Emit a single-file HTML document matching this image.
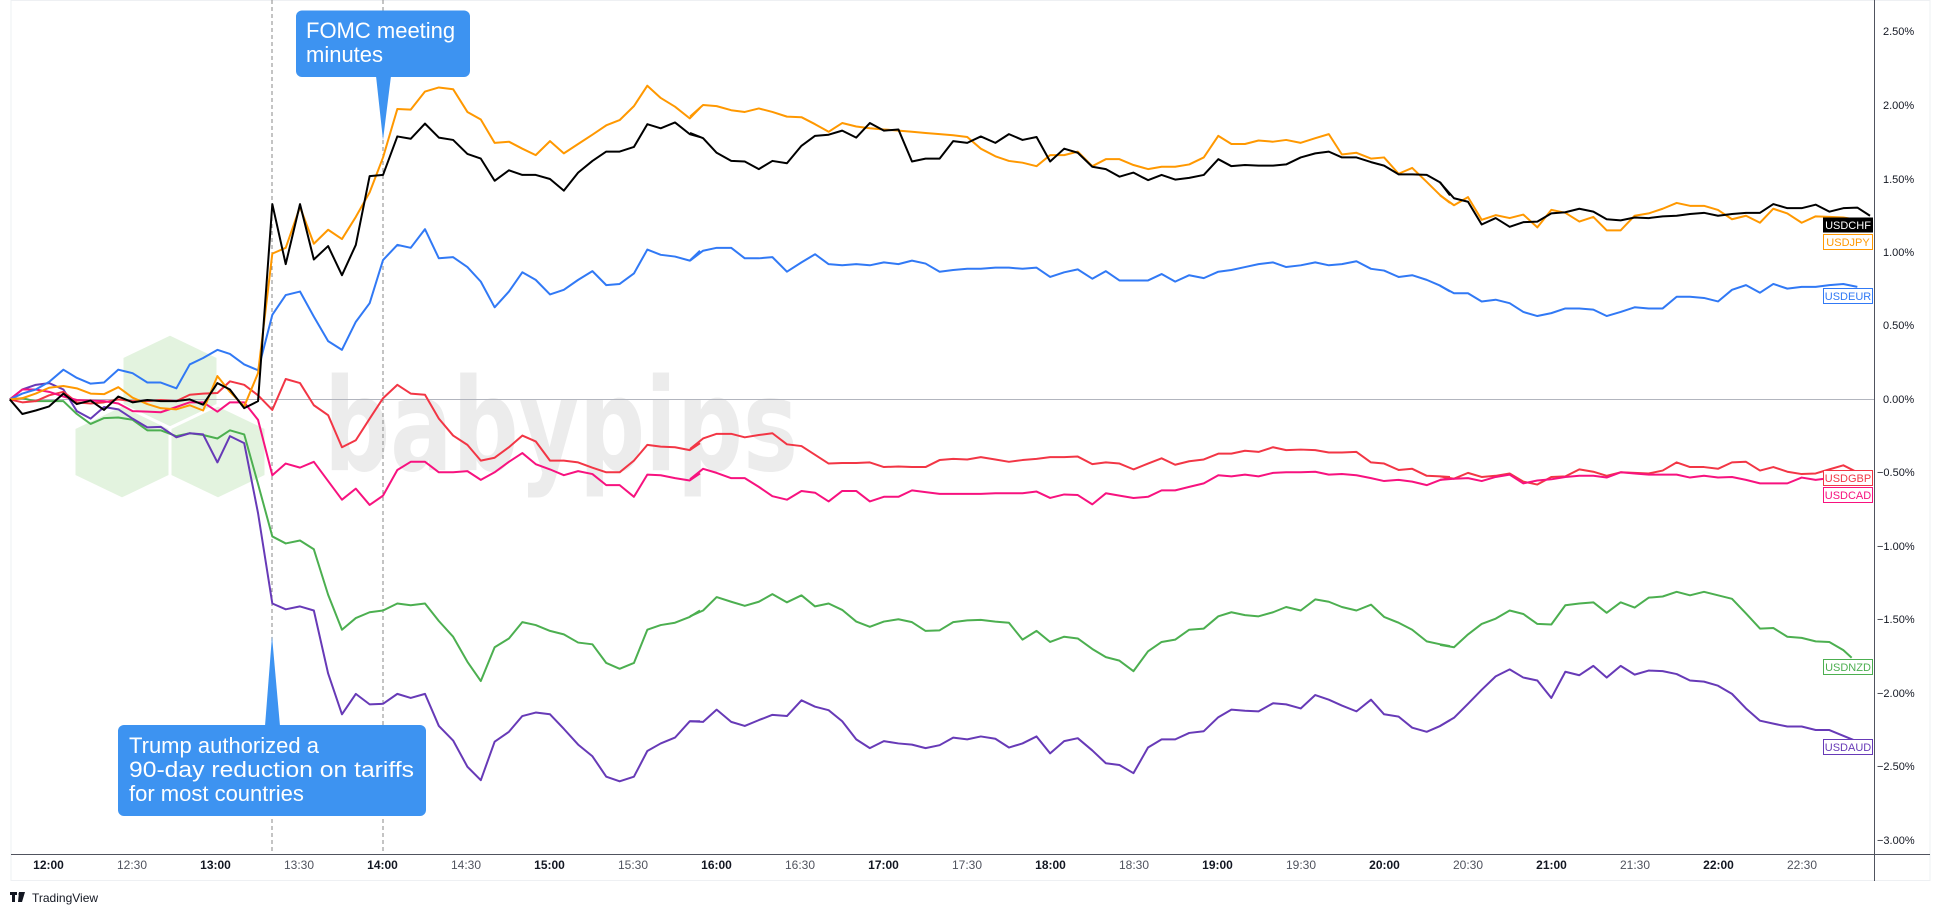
<!DOCTYPE html>
<html><head><meta charset="utf-8"><style>
html,body{margin:0;padding:0;background:#fff;}
svg{display:block;font-family:"Liberation Sans",sans-serif;}
.s{fill:none;stroke-width:2;vector-effect:non-scaling-stroke;stroke-linejoin:round;}
.ax{font-size:11px;fill:#131722;}
.tm{font-size:12px;fill:#131722;}
.lb{font-size:11px;}
</style></head><body>
<svg width="1940" height="917" viewBox="0 0 1940 917" xmlns="http://www.w3.org/2000/svg">
<rect x="0" y="0" width="1940" height="917" fill="#fff"/>
<rect x="11" y="0.5" width="1919" height="880" fill="#fff" stroke="#eef0f3"/>
<!-- watermark -->
<g fill="#e3f3df" stroke="#fff" stroke-width="3">
<polygon points="170,334 218,357 218,405 170,428 122,405 122,357"/>
<polygon points="122,405 170,428 170,476 122,499 74,476 74,428"/>
<polygon points="218,405 266,428 266,476 218,499 170,476 170,428"/>
</g>
<text x="324" y="470" font-size="128" font-weight="bold" fill="#ececec" font-family="'DejaVu Sans',sans-serif" textLength="474" lengthAdjust="spacingAndGlyphs">babypips</text>
<!-- zero line -->
<line x1="11" y1="399.5" x2="1874" y2="399.5" stroke="#b2b5be" stroke-width="1"/>
<!-- dashed -->
<line x1="272" y1="0" x2="272" y2="854" stroke="#888" stroke-dasharray="4,3" stroke-width="1"/>
<line x1="383" y1="0" x2="383" y2="854" stroke="#888" stroke-dasharray="4,3" stroke-width="1"/>

<!-- zoom2 segment -->
<g transform="scale(0.44643,0.58309)">
<polyline class="s" stroke="#4caf50" points="22,685 50,683 80,688 110,688 142,688 172,710 203,727 233,717 265,716 297,720 330,738 360,738 395,748 425,743 455,746 487,752 515,738 547,745 578,830 610,920 640,932 672,927 703,942 735,1020 766,1080 797,1060 828,1050 858,1047 890,1035 920,1038 952,1035 983,1065 1015,1092 1047,1135 1077,1168 1108,1110 1140,1095 1170,1067 1200,1072 1232,1082 1263,1088 1295,1102 1327,1105 1358,1137 1388,1147 1420,1137 1450,1080 1480,1072 1512,1068 1545,1058 1568,1047"/>
<polyline class="s" stroke="#673ab7" points="22,685 50,668 80,660 110,657 142,668 172,705 203,718 233,698 265,702 297,718 330,733 360,732 395,750 425,743 455,745 487,793 515,748 547,760 578,880 610,1035 640,1045 672,1040 703,1047 735,1155 766,1225 797,1190 828,1208 858,1207 890,1190 920,1197 952,1190 983,1245 1015,1270 1047,1315 1077,1338 1108,1272 1140,1255 1170,1228 1200,1222 1232,1225 1263,1250 1295,1277 1327,1297 1358,1332 1388,1340 1420,1332 1450,1288 1480,1275 1512,1265 1545,1237 1568,1237"/>
<polyline class="s" stroke="#f23645" points="22,685 50,690 80,688 110,678 142,672 172,690 203,692 233,690 265,685 297,688 330,688 360,686 395,688 425,677 455,675 487,674 515,654 547,660 578,678 610,703 640,650 672,657 703,695 735,712 766,767 797,755 828,718 858,683 890,660 920,675 952,677 983,718 1015,747 1047,763 1077,790 1108,785 1140,767 1170,747 1200,757 1232,790 1263,790 1295,793 1327,802 1358,810 1388,810 1420,790 1450,763 1480,766 1512,767 1545,772 1568,760"/>
<polyline class="s" stroke="#f7127f" points="22,685 50,668 80,668 110,672 142,680 172,686 203,687 233,688 265,692 297,705 330,706 360,707 395,698 425,690 455,690 487,706 515,690 547,690 578,720 610,815 640,795 672,802 703,792 735,825 766,857 797,838 828,866 858,850 890,806 920,792 952,792 983,810 1015,810 1047,808 1077,823 1108,810 1140,792 1170,777 1200,796 1232,805 1263,815 1295,808 1327,813 1358,832 1388,832 1420,852 1450,814 1480,815 1512,820 1545,824 1568,812"/>
<polyline class="s" stroke="#3179f5" points="22,685 50,675 80,668 110,655 142,634 172,648 203,658 233,656 265,634 297,640 330,656 360,656 395,666 425,625 455,614 487,600 515,607 547,625 578,635 610,540 640,506 672,500 703,543 735,585 766,600 797,552 828,520 858,446 890,420 920,425 952,393 983,443 1015,441 1047,458 1077,483 1108,527 1140,500 1170,467 1200,480 1232,505 1263,497 1295,480 1327,465 1358,489 1388,487 1420,469 1450,428 1480,437 1512,440 1545,447 1568,430"/>
<polyline class="s" stroke="#ff9800" points="22,685 50,683 80,675 110,665 142,662 172,666 203,675 233,676 265,664 297,682 330,693 360,700 395,702 425,695 455,704 487,645 515,672 547,697 578,640 610,435 640,425 672,355 703,418 735,394 766,410 797,372 828,330 858,270 890,187 920,188 952,157 983,150 1015,153 1047,192 1077,205 1108,245 1140,243 1170,255 1200,266 1232,242 1263,263 1295,247 1327,231 1358,215 1388,206 1420,182 1450,147 1480,168 1512,183 1545,203 1568,185"/>
<polyline class="s" stroke="#000" points="22,685 50,710 80,704 110,697 142,675 172,693 203,687 233,703 265,680 297,690 330,686 360,688 395,688 425,685 455,694 487,657 515,668 547,700 578,688 610,350 640,453 672,350 703,445 735,422 766,472 797,420 828,302 858,300 890,234 920,238 952,212 983,236 1015,240 1047,264 1077,272 1108,310 1140,292 1170,300 1200,300 1232,307 1263,327 1295,296 1327,276 1358,260 1388,260 1420,252 1450,213 1480,220 1512,210 1545,230 1568,235"/>
</g>

<!-- zoom4 segment -->
<g transform="translate(690,0) scale(0.48469,0.58309)">
<polyline class="s" stroke="#4caf50" points="0,1057 27,1047 55,1024 85,1032 113,1039 142,1032 170,1019 200,1033 230,1021 258,1040 286,1035 314,1046 343,1066 371,1075 400,1066 430,1062 458,1067 486,1082 515,1081 543,1067 572,1064 600,1063 630,1066 658,1068 686,1097 715,1082 743,1101 772,1092 800,1095 830,1113 858,1127 886,1133 915,1151 945,1117 973,1101 1001,1097 1030,1080 1060,1078 1090,1057 1117,1050 1145,1055 1173,1057 1203,1050 1230,1041 1260,1047 1290,1028 1318,1032 1345,1041 1375,1047 1405,1037 1432,1058 1462,1068 1490,1080 1520,1100 1548,1105 1568,1108"/>
<polyline class="s" stroke="#673ab7" points="0,1237 27,1238 55,1217 85,1238 113,1245 142,1235 170,1226 200,1228 230,1201 258,1212 286,1218 314,1237 343,1268 371,1283 400,1271 430,1275 458,1277 486,1283 515,1278 543,1265 572,1268 600,1263 630,1267 658,1282 686,1275 715,1263 743,1292 772,1271 800,1266 830,1287 858,1309 886,1312 915,1326 945,1282 973,1268 1001,1268 1030,1257 1060,1254 1090,1230 1117,1217 1145,1219 1173,1220 1203,1206 1230,1208 1260,1215 1290,1192 1318,1200 1345,1210 1375,1220 1405,1200 1432,1225 1462,1229 1490,1248 1520,1255 1548,1245 1568,1235"/>
<polyline class="s" stroke="#f23645" points="0,770 27,752 55,744 85,744 113,750 142,746 170,743 200,762 230,765 258,780 286,795 314,794 343,794 371,793 400,801 430,800 458,801 486,801 515,789 543,787 572,788 600,784 630,788 658,792 686,789 715,787 743,784 772,784 800,783 830,796 858,793 886,795 915,805 945,795 973,786 1001,797 1030,791 1060,788 1090,778 1117,778 1145,773 1173,775 1203,767 1230,772 1260,771 1290,772 1318,776 1345,776 1375,775 1405,793 1432,795 1462,806 1490,804 1520,816 1548,817 1568,818"/>
<polyline class="s" stroke="#f7127f" points="0,822 27,804 55,811 85,820 113,820 142,835 170,851 200,857 230,842 258,845 286,860 314,842 343,842 371,860 400,852 430,852 458,841 486,844 515,847 543,847 572,847 600,847 630,846 658,846 686,846 715,843 743,854 772,848 800,849 830,865 858,846 886,850 915,854 945,852 973,841 1001,841 1030,835 1060,829 1090,815 1117,817 1145,814 1173,817 1203,811 1230,810 1260,810 1290,809 1318,814 1345,813 1375,815 1405,820 1432,825 1462,823 1490,826 1520,832 1548,823 1568,820"/>
<polyline class="s" stroke="#3179f5" points="0,447 27,430 55,425 85,425 113,443 142,443 170,441 200,466 230,450 258,436 286,453 314,455 343,453 371,455 400,450 430,453 458,447 486,452 515,466 543,463 572,461 600,461 630,459 658,459 686,461 715,459 743,475 772,467 800,462 830,478 858,465 886,481 915,481 945,481 973,470 1001,483 1030,472 1060,477 1090,466 1117,463 1145,458 1173,453 1203,450 1230,458 1260,455 1290,450 1318,455 1345,453 1375,448 1405,461 1432,464 1462,475 1490,472 1520,480 1548,490 1568,500"/>
<polyline class="s" stroke="#ff9800" points="0,200 27,180 55,182 85,189 113,192 142,186 170,192 200,200 230,201 258,213 286,226 314,211 343,217 371,220 400,222 430,224 458,226 486,228 515,230 543,232 572,235 600,255 630,268 658,276 686,279 715,285 743,266 772,266 800,260 830,285 858,273 886,273 915,283 945,290 973,286 1001,286 1030,282 1060,270 1090,233 1117,247 1145,247 1173,241 1203,243 1230,240 1260,245 1290,237 1318,230 1345,265 1375,262 1405,272 1432,270 1462,298 1490,288 1520,312 1548,335 1568,348"/>
<polyline class="s" stroke="#000" points="0,228 27,237 55,262 85,276 113,277 142,290 170,276 200,280 230,250 258,233 286,231 314,224 343,236 371,211 400,224 430,222 458,277 486,272 515,272 543,242 572,245 600,234 630,245 658,230 686,240 715,235 743,277 772,255 800,262 830,286 858,290 886,303 915,296 945,309 973,300 1001,308 1030,305 1060,300 1090,273 1117,285 1145,283 1173,284 1203,284 1230,282 1260,270 1290,263 1318,260 1345,270 1375,270 1405,278 1432,284 1462,299 1490,299 1520,300 1548,313 1568,335"/>
</g>

<!-- zoom1 segment -->
<g transform="translate(1440,0) scale(0.33333,0.58309)">
<polyline class="s" stroke="#4caf50" points="0,1106 42,1110 84,1088 125,1070 167,1061 209,1047 250,1053 292,1070 334,1071 376,1038 418,1035 460,1033 500,1051 542,1033 584,1042 626,1025 668,1023 710,1015 750,1021 792,1015 834,1021 876,1027 918,1052 960,1078 1000,1077 1042,1092 1085,1094 1127,1100 1168,1101 1210,1115 1235,1128"/>
<polyline class="s" stroke="#673ab7" points="0,1245 42,1231 84,1207 125,1183 167,1160 209,1148 250,1162 292,1167 334,1197 376,1152 418,1158 460,1142 500,1162 542,1142 584,1157 626,1150 668,1151 710,1156 750,1167 792,1169 834,1176 876,1190 918,1215 960,1236 1000,1241 1042,1246 1085,1246 1127,1252 1168,1252 1210,1262 1245,1270"/>
<polyline class="s" stroke="#f23645" points="0,817 42,821 84,811 125,818 167,816 209,812 250,826 292,831 334,818 376,817 418,805 460,809 500,816 542,810 584,811 626,812 668,807 710,793 750,801 792,801 834,804 876,793 918,792 960,807 1000,801 1042,809 1085,813 1127,812 1168,805 1210,798 1245,808"/>
<polyline class="s" stroke="#f7127f" points="0,823 42,821 84,820 125,825 167,818 209,814 250,829 292,824 334,822 376,818 418,816 460,816 500,819 542,810 584,812 626,814 668,814 710,814 750,819 792,816 834,819 876,818 918,823 960,829 1000,829 1042,829 1085,819 1127,823 1168,820"/>
<polyline class="s" stroke="#3179f5" points="0,490 42,503 84,503 125,517 167,514 209,520 250,535 292,542 334,537 376,529 418,529 460,531 500,542 542,535 584,527 626,529 668,529 710,509 750,509 792,511 834,517 876,497 918,489 960,502 1000,487 1042,495 1085,492 1127,492 1168,489 1210,487 1252,492"/>
<polyline class="s" stroke="#ff9800" points="0,335 42,352 84,338 125,377 167,369 209,374 250,368 292,390 334,360 376,365 418,380 460,372 500,395 542,395 584,370 626,366 668,358 710,348 750,353 792,353 834,360 876,376 918,370 960,382 1000,358 1042,366 1085,382 1127,371 1168,372 1210,373 1230,375"/>
<polyline class="s" stroke="#000" points="0,313 42,340 84,346 125,385 167,374 209,389 250,381 292,380 334,366 376,364 418,358 460,363 500,376 542,378 584,373 626,374 668,371 710,370 750,367 792,365 834,370 876,367 918,365 960,365 1000,350 1042,357 1085,357 1127,351 1168,363 1210,357 1252,356 1290,370"/>
</g>

<!-- series labels -->
<g class="lb" text-anchor="middle">
<rect x="1823" y="217.5" width="50" height="15" fill="#000"/><text x="1848" y="229" fill="#fff">USDCHF</text>
<rect x="1823.5" y="234.5" width="49" height="15" fill="#fff" stroke="#ff9800"/><text x="1848" y="246" fill="#ff9800">USDJPY</text>
<rect x="1823.5" y="288.5" width="49" height="15" fill="#fff" stroke="#3179f5"/><text x="1848" y="300" fill="#3179f5">USDEUR</text>
<rect x="1823.5" y="470.5" width="49" height="15" fill="#fff" stroke="#f23645"/><text x="1848" y="482" fill="#f23645">USDGBP</text>
<rect x="1823.5" y="487.5" width="49" height="15" fill="#fff" stroke="#f7127f"/><text x="1848" y="499" fill="#f7127f">USDCAD</text>
<rect x="1823.5" y="659.5" width="49" height="15" fill="#fff" stroke="#4caf50"/><text x="1848" y="671" fill="#4caf50">USDNZD</text>
<rect x="1823.5" y="739.5" width="49" height="15" fill="#fff" stroke="#673ab7"/><text x="1848" y="751" fill="#673ab7">USDAUD</text>
</g>

<!-- axes -->
<line x1="1874.5" y1="0" x2="1874.5" y2="881" stroke="#50535e" stroke-width="1"/>
<line x1="11" y1="854.5" x2="1930" y2="854.5" stroke="#50535e" stroke-width="1"/>
<g class="ax">
<text x="1883" y="35">2.50%</text>
<text x="1883" y="109">2.00%</text>
<text x="1883" y="183">1.50%</text>
<text x="1883" y="256">1.00%</text>
<text x="1883" y="329">0.50%</text>
<text x="1883" y="403">0.00%</text>
<text x="1877" y="476">−0.50%</text>
<text x="1877" y="550">−1.00%</text>
<text x="1877" y="623">−1.50%</text>
<text x="1877" y="697">−2.00%</text>
<text x="1877" y="770">−2.50%</text>
<text x="1877" y="844">−3.00%</text>
</g>
<g class="tm" text-anchor="middle">
<text x="48.5" y="869" font-weight="bold">12:00</text>
<text x="132" y="869" fill="#50535e">12:30</text>
<text x="215.5" y="869" font-weight="bold">13:00</text>
<text x="299" y="869" fill="#50535e">13:30</text>
<text x="382.5" y="869" font-weight="bold">14:00</text>
<text x="466" y="869" fill="#50535e">14:30</text>
<text x="549.5" y="869" font-weight="bold">15:00</text>
<text x="633" y="869" fill="#50535e">15:30</text>
<text x="716.5" y="869" font-weight="bold">16:00</text>
<text x="800" y="869" fill="#50535e">16:30</text>
<text x="883.5" y="869" font-weight="bold">17:00</text>
<text x="967" y="869" fill="#50535e">17:30</text>
<text x="1050.5" y="869" font-weight="bold">18:00</text>
<text x="1134" y="869" fill="#50535e">18:30</text>
<text x="1217.5" y="869" font-weight="bold">19:00</text>
<text x="1301" y="869" fill="#50535e">19:30</text>
<text x="1384.5" y="869" font-weight="bold">20:00</text>
<text x="1468" y="869" fill="#50535e">20:30</text>
<text x="1551.5" y="869" font-weight="bold">21:00</text>
<text x="1635" y="869" fill="#50535e">21:30</text>
<text x="1718.5" y="869" font-weight="bold">22:00</text>
<text x="1802" y="869" fill="#50535e">22:30</text>
</g>

<!-- callouts -->
<g fill="#3d93f1">
<rect x="296" y="10.5" width="174" height="66.5" rx="6"/>
<polygon points="376,76 391,76 383,140"/>
<rect x="118" y="725" width="308" height="91" rx="6"/>
<polygon points="265,726 280,726 272,636"/>
</g>
<g fill="#fff" font-size="22" font-family="'Liberation Sans',sans-serif">
<text x="306" y="38">FOMC meeting</text>
<text x="306" y="62">minutes</text>
<text x="129" y="753">Trump authorized a</text>
<text x="129" y="777" textLength="285" lengthAdjust="spacingAndGlyphs">90-day reduction on tariffs</text>
<text x="129" y="801">for most countries</text>
</g>

<!-- logo -->
<g>
<rect x="10" y="892" width="7" height="3" fill="#131722"/>
<rect x="12" y="892" width="3" height="10" fill="#131722"/>
<polygon points="19,892 25,892 22,902 18,902" fill="#131722"/>
<circle cx="20" cy="894" r="1.5" fill="#131722"/>
<text x="32" y="902" font-size="12" fill="#131722">TradingView</text>
</g>
</svg>
</body></html>
